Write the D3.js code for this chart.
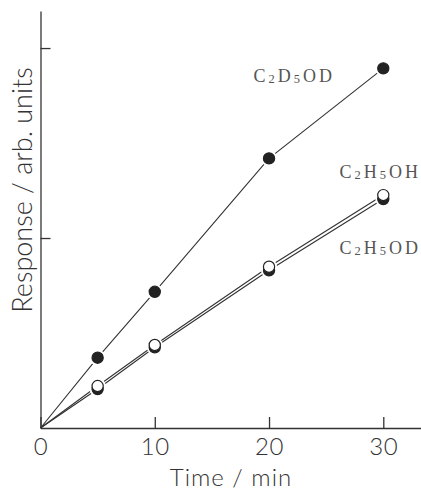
<!DOCTYPE html>
<html>
<head>
<meta charset="utf-8">
<script src="https://cdn.jsdelivr.net/npm/d3@7"></script>
<style>
  body { margin: 0; background: #fff; }
  .axis path, .axis line { stroke: #333; stroke-width: 1.3; }
  .axis text { font-family: Lato, "Open Sans", sans-serif; font-weight: 300; fill: #333; }
</style>
</head>
<body>
<div id="chart"></div>
<script>
// values (response in arbitrary units)
const times = [0, 5, 10, 20, 30];
const c2d5od = [0, 0.37, 0.717, 1.419, 1.893];
const c2h5oh = [0, 0.221, 0.437, 0.849, 1.226];
const c2h5od = [0, 0.205, 0.425, 0.83, 1.205];
const xTicks = [0, 10, 20, 30];
const yTicks = [1, 2];

const width = 421, height = 491;
const margin = {top: 11, right: 0, bottom: 63, left: 40.5};

const x = d3.scaleLinear()
    .domain([0, 33.3])
    .range([margin.left, width - margin.right]);

const y = d3.scaleLinear()
    .domain([0, 2.195])
    .range([height - margin.bottom, margin.top]);

const svg = d3.select("#chart").append("svg")
    .attr("width", width)
    .attr("height", height);

// axes, ticks pointing inward
svg.append("g")
    .attr("class", "axis")
    .attr("transform", `translate(0,${y(0)})`)
    .call(d3.axisBottom(x).tickValues(xTicks).tickSize(-11).tickSizeOuter(0).tickPadding(10))
    .call(g => g.selectAll("text").style("font-size", "24px").style("letter-spacing", "0.5px"));

svg.append("g")
    .attr("class", "axis")
    .attr("transform", `translate(${x(0)},0)`)
    .call(d3.axisLeft(y).tickValues(yTicks).tickSize(-10).tickSizeOuter(0).tickFormat(""));

svg.append("text")
    .attr("x", 231)
    .attr("y", 486)
    .attr("text-anchor", "middle")
    .style("font-family", "Lato, 'Open Sans', sans-serif")
    .style("font-weight", 300)
    .style("font-size", "24px")
    .style("letter-spacing", "1px")
    .style("fill", "#333")
    .text("Time / min");

svg.append("text")
    .attr("transform", "translate(32,190) rotate(-90)")
    .attr("text-anchor", "middle")
    .style("font-family", "Lato, 'Open Sans', sans-serif")
    .style("font-weight", 300)
    .style("font-size", "27px")
    .style("fill", "#333")
    .text("Response / arb. units");

// series
const series = [
    {name: "C2H5OD", values: c2h5od, filled: true},
    {name: "C2D5OD", values: c2d5od, filled: true},
    {name: "C2H5OH", values: c2h5oh, filled: false}
];

const line = d3.line()
    .x(d => x(d[0]))
    .y(d => y(d[1]));

series.forEach(s => {
    svg.append("path")
        .datum(times.map((t, i) => [t, s.values[i]]))
        .attr("d", line)
        .attr("fill", "none")
        .attr("stroke", "#333")
        .attr("stroke-width", 1.1);
});

// white halo so the lines stop short of the markers
series.forEach(s => {
    svg.append("g").selectAll("circle")
        .data(times.slice(1).map((t, i) => [t, s.values[i + 1]]))
        .join("circle")
        .attr("cx", d => x(d[0]))
        .attr("cy", d => y(d[1]))
        .attr("r", 8)
        .attr("fill", "#fff");
});

series.forEach(s => {
    svg.append("g").selectAll("circle")
        .data(times.slice(1).map((t, i) => [t, s.values[i + 1]]))
        .join("circle")
        .attr("cx", d => x(d[0]))
        .attr("cy", d => y(d[1]))
        .attr("r", 5.6)
        .attr("fill", s.filled ? "#222" : "#fff")
        .attr("stroke", "#222")
        .attr("stroke-width", 1.2);
});

// formula labels with subscript digits
function formula(str, px, py) {
    const t = svg.append("text")
        .attr("x", px)
        .attr("y", py)
        .attr("text-anchor", "end")
        .style("font-family", "'Liberation Serif', serif")
        .style("font-size", "18px")
        .style("letter-spacing", "3px")
        .style("fill", "#555");
    let sub = false;
    str.split("").forEach(ch => {
        const isDigit = /\d/.test(ch);
        const ts = t.append("tspan").text(ch);
        if (isDigit) ts.style("font-size", "12.5px");
        if (isDigit && !sub) ts.attr("dy", 1);
        if (!isDigit && sub) ts.attr("dy", -1);
        sub = isDigit;
    });
}

formula("C2D5OD", 335, 82);
formula("C2H5OH", 421, 178);
formula("C2H5OD", 421, 254);
</script>
</body>
</html>
